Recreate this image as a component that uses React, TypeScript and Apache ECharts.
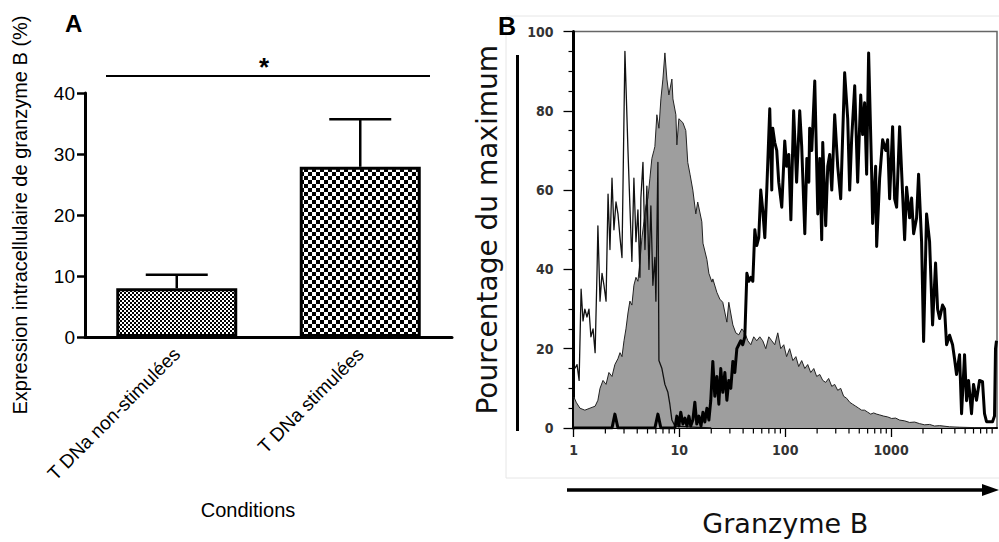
import React, { useEffect, useRef } from 'react';
import * as echarts from 'echarts';

// ---------- Panel A data ----------
const conditions = ['T DNa non-stimulées', 'T DNa stimulées'];
const meanGranzyme = [8.0, 27.9];
const upperErrorGranzyme = [10.2, 35.7];

// ---------- Panel B data (Granzyme B fluorescence, % of maximum) ----------
const greyHistogram: [number, number][] = [
  [1.01, 7.8], [1.06, 6.5], [1.15, 5], [1.28, 4.5], [1.43, 5], [1.6, 5.5], [1.7, 7], [1.78, 10],
  [1.9, 12], [2.03, 11], [2.16, 14], [2.31, 13], [2.46, 16], [2.63, 17.5], [2.75, 19], [2.87, 18],
  [3.0, 22], [3.13, 25], [3.27, 29], [3.41, 32], [3.56, 31], [3.72, 36], [3.89, 38], [4.06, 37],
  [4.24, 42], [4.43, 48], [4.63, 52], [4.83, 56], [5.05, 58], [5.27, 63], [5.5, 68], [5.75, 70],
  [5.87, 71], [6.13, 79], [6.41, 75.6], [6.69, 83], [6.99, 88], [7.3, 94.6], [7.62, 88], [7.96, 84],
  [8.5, 88], [8.69, 83], [9.27, 79], [9.47, 71.4], [9.89, 78], [10.8, 77], [11.5, 75], [12.0, 67],
  [12.6, 64], [13.4, 60], [14.3, 54], [14.9, 57], [16.3, 52], [16.7, 46.6], [18.2, 42.5], [19.0, 39],
  [20.3, 36.8], [20.7, 37.6], [22.6, 34.2], [24.1, 32.5], [25.7, 31.7], [28.1, 26.7], [29.3, 31.7],
  [32.0, 26], [34.1, 24], [36.4, 23.5], [38.9, 25], [41.5, 24], [44.3, 22], [47.3, 21], [50.4, 23],
  [53.8, 22], [57.5, 23], [61.3, 22], [65.5, 20], [69.9, 23], [74.6, 22], [79.6, 21], [85.0, 24],
  [90.7, 20], [96.8, 21], [103, 18], [110, 20], [118, 17], [126, 18], [134, 15.5], [143, 17],
  [153, 15], [163, 16], [174, 14], [186, 15], [198, 13], [212, 13.5], [226, 12], [241, 11.5],
  [257, 12.5], [275, 10.5], [293, 11], [313, 9.5], [334, 10], [356, 8], [380, 7.5], [406, 6.5],
  [433, 6], [463, 5.5], [494, 5], [527, 4.5], [562, 4.5], [600, 4], [641, 3.5], [684, 3.8],
  [730, 3.5], [779, 3.3], [850, 3], [927, 2.8], [1011, 2.4], [1103, 2.5], [1203, 2], [1341, 1.8],
  [1495, 1.4], [1667, 1.5], [1858, 1.1], [2070, 0.8], [2308, 0.9], [2573, 0.5], [2868, 0.6],
  [3565, 0.3], [4430, 0.2], [6135, 0.1], [9680, 0],
];

const thinHistogram: [number, number][] = [
  [1.03, 15], [1.08, 16], [1.13, 12], [1.18, 35], [1.23, 27], [1.28, 30], [1.34, 28], [1.4, 30],
  [1.46, 23], [1.53, 25], [1.6, 19], [1.67, 40], [1.7, 51], [1.78, 32], [1.86, 39], [1.94, 36],
  [2.03, 32], [2.12, 59], [2.21, 45], [2.31, 63], [2.41, 50], [2.52, 57], [2.63, 54], [2.75, 48],
  [2.87, 43], [3.06, 95], [3.27, 70], [3.41, 56], [3.56, 42], [3.72, 63], [3.89, 47], [4.06, 55],
  [4.24, 38], [4.33, 58], [4.53, 67], [4.73, 45], [4.93, 61], [5.16, 40], [5.38, 56], [5.62, 36],
  [5.87, 43], [6.0, 32], [6.27, 67], [6.41, 17], [6.84, 15], [7.3, 11], [7.79, 9], [8.13, 6],
  [8.5, 2], [9.07, 0.5], [12, 0.3], [20, 0],
];

const thickHistogram: [number, number][] = [
  [1.01, 0], [2.31, 0], [2.46, 3.5], [2.63, 0], [5.87, 0], [6.27, 3.5], [6.69, 0], [9.07, 0],
  [9.47, 3], [9.89, 0.5], [10.3, 4], [10.8, 1], [11.3, 2.5], [11.8, 0.5], [12.3, 3], [12.8, 0.5],
  [13.4, 2], [14.0, 6.5], [14.6, 1], [15.3, 3], [16.0, 0.5], [16.7, 4], [17.4, 1.5], [18.2, 5],
  [19.0, 2], [19.8, 7], [20.7, 16.8], [21.6, 8], [22.6, 13], [23.6, 6], [24.6, 15], [25.7, 9],
  [26.9, 14], [28.1, 7], [29.3, 12], [30.6, 10], [32.0, 16.8], [33.4, 14], [34.9, 20], [36.4, 21],
  [38.0, 22], [39.7, 21], [41.5, 23], [43.4, 39], [45.3, 37], [47.3, 38], [49.4, 37], [51.6, 50],
  [53.8, 46], [56.2, 48], [58.7, 60], [61.3, 55], [64.1, 48], [66.9, 60], [71.4, 80.5], [74.6, 60],
  [76.2, 75.6], [79.6, 72], [83.1, 70], [86.8, 62], [92.7, 55.7], [98.9, 72.4], [103, 66], [108, 69],
  [113, 52.5], [120, 80], [128, 62], [137, 80], [143, 71], [153, 49], [160, 68], [167, 62],
  [170, 75.6], [178, 70], [190, 87.5], [203, 54], [212, 68], [221, 47.5], [226, 72], [241, 51],
  [252, 66], [263, 69], [275, 60], [281, 66], [293, 79], [313, 66], [334, 57.8], [364, 89.6],
  [389, 78], [406, 60], [424, 73], [453, 86.3], [483, 62], [516, 84], [538, 74], [562, 82],
  [587, 64], [613, 94.6], [655, 64], [669, 51.6], [714, 66], [730, 45.8], [779, 63], [831, 72.7],
  [888, 70], [927, 72.7], [968, 57.8], [1033, 76], [1079, 57.8], [1127, 55.7], [1203, 76], [1284, 59],
  [1341, 47.5], [1400, 60.7], [1495, 53], [1561, 58], [1631, 49], [1740, 53], [1817, 64], [1940, 47],
  [2026, 21.8], [2162, 54], [2308, 47], [2463, 26], [2629, 41.6], [2747, 30], [2868, 27.6], [3060, 31],
  [3198, 30], [3339, 21], [3565, 23.4], [3804, 21], [3973, 17.4], [4149, 13.5], [4430, 18.5], [4627, 3.6],
  [4937, 18.5], [5157, 6.9], [5385, 12], [5747, 3.6], [6001, 11], [6405, 7], [6838, 12], [7297, 11.7],
  [7622, 3.6], [7962, 1.6], [9072, 1.6], [9472, 3], [9680, 20], [9890, 22],
];

const logMinorTicks: number[] = [];
for (const decade of [1, 10, 100, 1000]) {
  for (let k = 2; k <= 9; k++) logMinorTicks.push(k * decade);
}

const FONT_A = "'Liberation Sans', Arial, Helvetica, sans-serif";
const FONT_B_TICK = "'Liberation Sans Narrow', 'Arial Narrow', 'DejaVu Sans Condensed', sans-serif";
const FONT_B_TITLE = "'DejaVu Sans', Verdana, sans-serif";

function checker(cell: number) {
  const c = document.createElement('canvas');
  c.width = cell * 2;
  c.height = cell * 2;
  const ctx = c.getContext('2d')!;
  ctx.fillStyle = '#ffffff';
  ctx.fillRect(0, 0, cell * 2, cell * 2);
  ctx.fillStyle = '#000000';
  ctx.fillRect(0, 0, cell, cell);
  ctx.fillRect(cell, cell, cell, cell);
  return { image: c, repeat: 'repeat', imageWidth: cell * 2, imageHeight: cell * 2 };
}

export default function App() {
  const ref = useRef<HTMLDivElement>(null);

  useEffect(() => {
    const chart = echarts.init(ref.current!, null, { renderer: 'svg' });
    const patterns = [checker(2), checker(4)];

    const option: any = {
      animation: false,
      backgroundColor: '#ffffff',
      textStyle: { fontFamily: FONT_A },
      grid: [
        { left: 85, top: 93, width: 367, height: 244 },
        {
          left: 573.5, top: 31.5, width: 423.5, height: 403,
          show: true, borderColor: '#666', borderWidth: 1.5, backgroundColor: 'transparent',
        },
      ],
      xAxis: [
        {
          type: 'category', gridIndex: 0, data: conditions,
          axisLine: { lineStyle: { color: '#000', width: 3 } },
          axisTick: { alignWithLabel: true, length: 8, lineStyle: { color: '#000', width: 3 } },
          axisLabel: { rotate: 45, interval: 0, fontSize: 19, fontFamily: FONT_A, color: '#000', margin: 14 },
        },
        {
          type: 'log', gridIndex: 1, logBase: 10, min: 1, max: 10000,
          axisLine: { onZero: false, lineStyle: { color: '#000', width: 2 } },
          axisTick: { length: 9, lineStyle: { color: '#000', width: 1.3 } },
          axisLabel: {
            showMaxLabel: false, formatter: (v: number) => String(Math.round(v)),
            fontSize: 14, fontFamily: FONT_B_TICK, fontWeight: 'bold', color: '#333', margin: 15,
          },
          splitLine: { show: false },
          name: 'Granzyme B', nameLocation: 'middle', nameGap: 82,
          nameTextStyle: { fontSize: 27, fontFamily: FONT_B_TITLE, color: '#111' },
        },
      ],
      yAxis: [
        {
          type: 'value', gridIndex: 0, min: 0, max: 40, interval: 10,
          axisLine: { show: true, lineStyle: { color: '#000', width: 3 } },
          axisTick: { show: true, length: 8, lineStyle: { color: '#000', width: 2.5 } },
          axisLabel: { fontSize: 19, fontFamily: FONT_A, color: '#000', margin: 10 },
          splitLine: { show: false },
          name: 'Expression intracellulaire de granzyme B (%)', nameLocation: 'middle', nameGap: 55,
          nameTextStyle: { fontSize: 20, fontFamily: FONT_A, color: '#000' },
        },
        {
          type: 'value', gridIndex: 1, min: 0, max: 100, interval: 20,
          axisLine: { show: true, onZero: false, lineStyle: { color: '#000', width: 3 } },
          axisTick: { show: true, length: 10, lineStyle: { color: '#000', width: 1.3 } },
          minorTick: { show: true, splitNumber: 4, length: 5, lineStyle: { color: '#000', width: 1.2 } },
          axisLabel: { fontSize: 14, fontFamily: FONT_B_TICK, fontWeight: 'bold', color: '#333', margin: 20 },
          splitLine: { show: false },
          minorSplitLine: { show: false },
          name: 'Pourcentage du maximum', nameLocation: 'middle', nameGap: 72,
          nameTextStyle: { fontSize: 28, fontFamily: FONT_B_TITLE, color: '#111' },
        },
      ],
      series: [
        {
          type: 'bar', xAxisIndex: 0, yAxisIndex: 0, barWidth: 121, z: 3,
          itemStyle: { borderColor: '#000', borderWidth: 3 },
          data: meanGranzyme.map((v, i) => ({ value: v, itemStyle: { color: patterns[i] } })),
        },
        {
          type: 'custom', xAxisIndex: 0, yAxisIndex: 0, z: 4, silent: true,
          data: conditions.map((_, i) => [i, meanGranzyme[i], upperErrorGranzyme[i]]),
          renderItem: (_p: any, api: any) => {
            const i = api.value(0);
            const base = api.coord([i, api.value(1)]);
            const top = api.coord([i, api.value(2)]);
            const half = 31;
            return {
              type: 'group',
              children: [
                { type: 'line', shape: { x1: base[0], y1: base[1], x2: top[0], y2: top[1] }, style: { stroke: '#000', lineWidth: 2.5 } },
                { type: 'line', shape: { x1: top[0] - half, y1: top[1], x2: top[0] + half, y2: top[1] }, style: { stroke: '#000', lineWidth: 2.5 } },
              ],
            };
          },
        },
        {
          type: 'line', xAxisIndex: 1, yAxisIndex: 1, data: greyHistogram, symbol: 'none', z: 2,
          lineStyle: { color: '#222', width: 1, join: 'round' },
          areaStyle: { color: '#9e9e9e', opacity: 1 },
        },
        {
          type: 'line', xAxisIndex: 1, yAxisIndex: 1, data: thinHistogram, symbol: 'none', z: 3,
          lineStyle: { color: '#111', width: 1.3, join: 'round' },
        },
        {
          type: 'line', xAxisIndex: 1, yAxisIndex: 1, data: thickHistogram, symbol: 'none', z: 4,
          lineStyle: { color: '#000', width: 3, join: 'round' },
        },
        {
          type: 'custom', xAxisIndex: 1, yAxisIndex: 1, silent: true, z: 5,
          data: logMinorTicks.map((v) => [v, 0]),
          renderItem: (_p: any, api: any) => {
            const p = api.coord([api.value(0), 0]);
            return { type: 'line', shape: { x1: p[0], y1: p[1], x2: p[0], y2: p[1] + 5.5 }, style: { stroke: '#000', lineWidth: 1.2 } };
          },
        },
      ],
      graphic: [
        { type: 'rect', z: -1, shape: { x: 506, y: 16, width: 500, height: 462 }, style: { fill: 'none', stroke: '#e6e6e6', lineWidth: 1 } },
        { type: 'text', x: 65, y: 11.5, style: { text: 'A', font: `bold 24px ${FONT_A}`, fill: '#000' } },
        { type: 'text', x: 498, y: 13.5, style: { text: 'B', font: `bold 25px ${FONT_A}`, fill: '#000' } },
        { type: 'line', shape: { x1: 106, y1: 76, x2: 430, y2: 76 }, style: { stroke: '#000', lineWidth: 2 } },
        { type: 'text', x: 264, y: 54, style: { text: '*', font: `bold 26px ${FONT_A}`, fill: '#000', align: 'center', verticalAlign: 'top' } },
        { type: 'text', x: 248, y: 510, style: { text: 'Conditions', font: `20px ${FONT_A}`, fill: '#000', align: 'center', verticalAlign: 'middle' } },
        { type: 'line', shape: { x1: 517.5, y1: 55, x2: 517.5, y2: 431 }, style: { stroke: '#000', lineWidth: 3 } },
        { type: 'line', shape: { x1: 567, y1: 490, x2: 986, y2: 490 }, style: { stroke: '#000', lineWidth: 3.5 } },
        { type: 'polygon', shape: { points: [[982, 484], [999, 490], [982, 496]] }, style: { fill: '#000' } },
      ],
    };

    chart.setOption(option);
    return () => chart.dispose();
  }, []);

  return <div ref={ref} style={{ position: 'absolute', left: 0, top: 0, width: 999, height: 542 }} />;
}
